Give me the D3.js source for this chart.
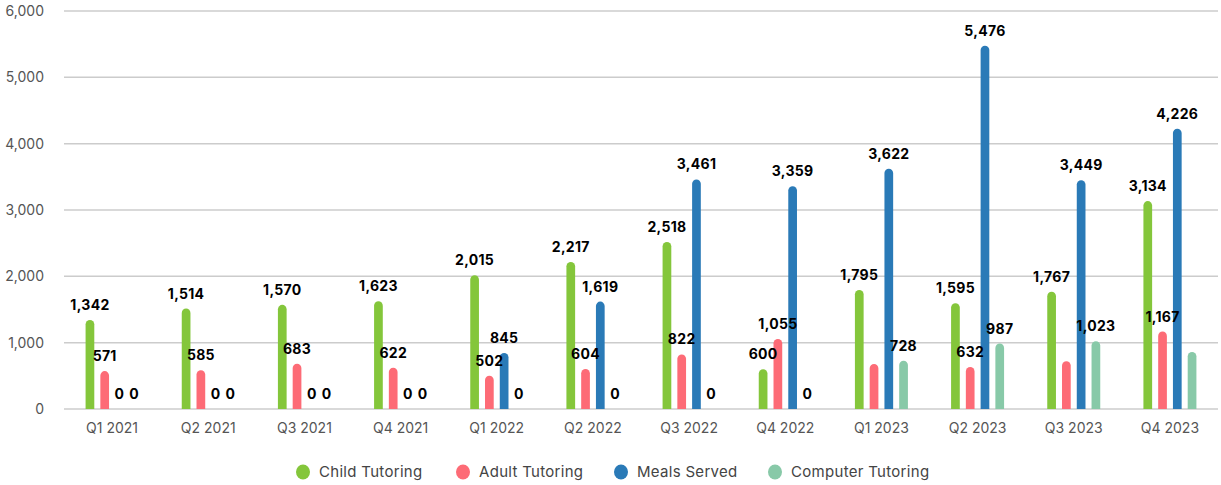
<!DOCTYPE html>
<html>
<head>
<meta charset="utf-8">
<script src="https://cdn.jsdelivr.net/npm/d3@7"></script>
<style>
  body { margin: 0; background: #fff; }
  svg { display: block; font-family: Inter, "Noto Sans", sans-serif; }
</style>
</head>
<body>
<div id="chart"></div>
<script>
const quarters = ["Q1 2021", "Q2 2021", "Q3 2021", "Q4 2021", "Q1 2022", "Q2 2022", "Q3 2022", "Q4 2022", "Q1 2023", "Q2 2023", "Q3 2023", "Q4 2023"];
const seriesNames = ["Child Tutoring", "Adult Tutoring", "Meals Served", "Computer Tutoring"];
const childTutoring = [1342, 1514, 1570, 1623, 2015, 2217, 2518, 600, 1795, 1595, 1767, 3134];
const adultTutoring = [571, 585, 683, 622, 502, 604, 822, 1055, 680, 632, 720, 1167];
const mealsServed = [0, 0, 0, 0, 845, 1619, 3461, 3359, 3622, 5476, 3449, 4226];
const computerTutoring = [0, 0, 0, 0, 0, 0, 0, 0, 728, 987, 1023, 860];
// which values carry a data label in the original (some were hidden)
const childShown = [1, 1, 1, 1, 1, 1, 1, 1, 1, 1, 1, 1];
const adultShown = [1, 1, 1, 1, 1, 1, 1, 1, 0, 1, 0, 1];
const mealsShown = [1, 1, 1, 1, 1, 1, 1, 1, 1, 1, 1, 1];
const computerShown = [1, 1, 1, 1, 1, 1, 1, 1, 1, 1, 1, 0];
const yTicks = [0, 1000, 2000, 3000, 4000, 5000, 6000];
const colors = ["#84c63b", "#fd6b76", "#2a7ab7", "#88c9a8"];

const values = [childTutoring, adultTutoring, mealsServed, computerTutoring];
const shown = [childShown, adultShown, mealsShown, computerShown];

const width = 1221, height = 485;
const marginLeft = 64, marginRight = 3, marginTop = 11, marginBottom = 76;

const x = d3.scaleBand()
  .domain(quarters)
  .range([marginLeft, width - marginRight]);

const x1 = d3.scaleBand()
  .domain(seriesNames)
  .range([-26.5, 26.5])
  .paddingInner(0.41);

const y = d3.scaleLinear()
  .domain([0, 6000])
  .range([height - marginBottom, marginTop]);

const svg = d3.select("#chart").append("svg")
  .attr("width", width)
  .attr("height", height)
  .attr("viewBox", [0, 0, width, height]);

// grid lines
svg.append("g")
  .selectAll("line")
  .data(yTicks)
  .join("line")
    .attr("x1", marginLeft)
    .attr("x2", width - marginRight)
    .attr("y1", d => y(d))
    .attr("y2", d => y(d))
    .attr("stroke", "#cccccc")
    .attr("stroke-width", 1.5);

// y axis labels
svg.append("g")
  .attr("transform", `translate(${marginLeft - 20},0)`)
  .call(d3.axisLeft(y).tickValues(yTicks).tickFormat(d3.format(",")).tickSize(0).tickPadding(0))
  .call(g => g.select(".domain").remove())
  .call(g => g.selectAll("text")
    .attr("font-family", "Inter, 'Noto Sans', sans-serif")
    .attr("font-size", 14)
    .attr("fill", "#555"));

// x axis labels
svg.append("g")
  .attr("transform", `translate(0,${height - marginBottom})`)
  .call(d3.axisBottom(x).tickSize(0).tickPadding(14))
  .call(g => g.select(".domain").remove())
  .call(g => g.selectAll("text")
    .attr("font-family", "Inter, 'Noto Sans', sans-serif")
    .attr("font-size", 14)
    .attr("fill", "#555"));

const bw = x1.bandwidth();
const r = bw / 2;

function barPath(x0, v) {
  const y0 = y(0), y1 = y(v);
  const h = y0 - y1;
  if (h <= 0) return "";
  const rr = Math.min(r, h);
  return `M${x0},${y0}V${y1 + rr}A${r},${rr} 0 0 1 ${x0 + bw},${y1 + rr}V${y0}Z`;
}

const cells = [];
seriesNames.forEach((s, si) => {
  quarters.forEach((q, qi) => {
    cells.push({ s, si, q, v: values[si][qi], show: shown[si][qi] });
  });
});

svg.append("g")
  .selectAll("path")
  .data(cells)
  .join("path")
    .attr("fill", d => colors[d.si])
    .attr("d", d => barPath(x(d.q) + x.bandwidth() / 2 + x1(d.s), d.v));

// data labels
svg.append("g")
  .selectAll("text")
  .data(cells.filter(d => d.show))
  .join("text")
    .attr("x", d => x(d.q) + x.bandwidth() / 2 + x1(d.s) + bw / 2)
    .attr("y", d => y(d.v) - 10)
    .attr("text-anchor", "middle")
    .attr("font-size", 14)
    .attr("font-weight", 700)
    .attr("letter-spacing", 0.3)
    .attr("fill", "#000")
    .text(d => d3.format(",")(d.v));

// legend
const legendX = [303, 463, 621, 775];
const legend = svg.append("g")
  .selectAll("g")
  .data(seriesNames)
  .join("g")
    .attr("transform", (d, i) => `translate(${legendX[i]},472)`);

legend.append("ellipse")
  .attr("rx", 7)
  .attr("ry", 7.5)
  .attr("fill", (d, i) => colors[i]);

legend.append("text")
  .attr("x", 16)
  .attr("dy", "0.35em")
  .attr("font-size", 15)
  .attr("letter-spacing", 0.3)
  .attr("fill", "#444")
  .text(d => d);
</script>
</body>
</html>
